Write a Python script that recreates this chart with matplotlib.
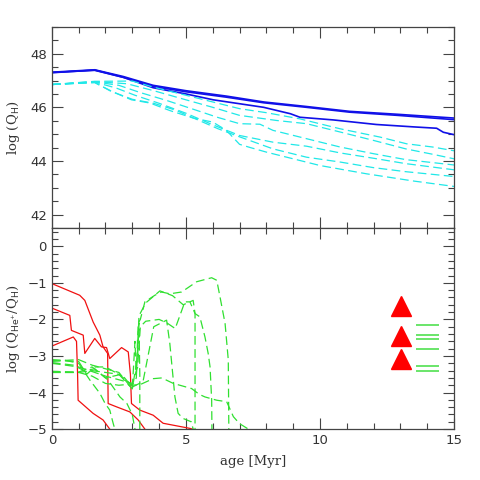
import matplotlib
matplotlib.use("Agg")
import matplotlib.pyplot as plt
from matplotlib.ticker import MultipleLocator

# ---- top panel: log Q_H vs age ----
blue_x = [
    [0, 1.6, 2.66, 3.78, 5.0, 6.5, 7.9, 9.5, 11.1, 12.9, 15],
    [0, 1.6, 2.66, 3.78, 5.0, 6.5, 7.9, 9.5, 11.1, 12.9, 15],
    [0, 1.6, 2.66, 3.78, 5.0, 6.02, 7.9, 8.9, 9.25, 10.5, 12.1, 13.5, 14.35, 14.6, 15],
]
blue_y = [
    [47.31, 47.40, 47.15, 46.82, 46.62, 46.42, 46.20, 46.03, 45.85, 45.74, 45.60],
    [47.30, 47.38, 47.12, 46.78, 46.58, 46.38, 46.17, 46.00, 45.82, 45.70, 45.54],
    [47.29, 47.39, 47.12, 46.73, 46.50, 46.28, 46.00, 45.76, 45.63, 45.53, 45.36, 45.27, 45.22, 45.07, 44.98],
]

cyan_x = [
    [0, 1.6, 3.0, 3.8, 5.0, 6.0, 7.0, 8.0, 9.25, 10.75, 12.24, 13.23, 14.2, 15],
    [0, 1.6, 2.8, 3.8, 5.0, 6.0, 7.0, 8.38, 9.5, 10.75, 11.98, 13.2, 14.2, 15],
    [0, 1.6, 2.5, 3.3, 4.3, 5.3, 6.2, 7.0, 7.76, 8.25, 9.5, 10.75, 12.0, 13.2, 15],
    [0, 1.6, 2.4, 3.1, 4.0, 5.0, 6.0, 7.0, 8.25, 9.5, 10.75, 12.0, 13.2, 15],
    [0, 1.6, 2.2, 3.0, 3.8, 4.6, 5.4, 6.2, 7.0, 8.25, 9.5, 10.75, 12.0, 13.2, 15],
    [0, 1.6, 2.29, 2.97, 3.66, 4.4, 5.27, 6.0, 6.5, 7.0, 7.4, 8.0, 10.0, 11.74, 13.5, 15],
]
cyan_y = [
    [46.85, 46.97, 46.98, 46.75, 46.45, 46.20, 45.95, 45.80, 45.57, 45.20, 44.89, 44.64, 44.52, 44.38],
    [46.85, 46.96, 46.88, 46.62, 46.28, 46.00, 45.70, 45.51, 45.39, 45.08, 44.77, 44.45, 44.25, 44.08],
    [46.85, 46.95, 46.82, 46.55, 46.25, 45.92, 45.62, 45.39, 45.37, 45.14, 44.83, 44.52, 44.27, 44.05, 43.85],
    [46.85, 46.94, 46.72, 46.45, 46.15, 45.78, 45.35, 44.95, 44.70, 44.55, 44.30, 44.10, 43.90, 43.67],
    [46.85, 46.93, 46.60, 46.30, 46.15, 45.90, 45.55, 45.20, 44.90, 44.45, 44.14, 43.96, 43.75, 43.60, 43.42],
    [46.85, 46.92, 46.57, 46.28, 46.16, 45.88, 45.60, 45.45, 45.15, 44.62, 44.50, 44.33, 43.83, 43.52, 43.25, 43.05],
]

# ---- bottom panel: log Q_He+/Q_H vs age ----
red_x = [
    [0, 1.04, 1.23, 1.54, 1.79, 1.91, 2.08, 2.10, 2.41, 2.91, 3.22, 3.47],
    [0, 0.67, 0.73, 1.17, 1.23, 1.6, 1.85, 2.04, 2.16, 2.6, 2.85, 2.93, 2.97, 3.28, 3.78, 4.15, 5.15, 5.25],
    [0, 0.8, 0.92, 0.96, 0.98, 1.54, 1.91, 2.1, 2.16],
]
red_y = [
    [-1.02, -1.34, -1.48, -2.07, -2.43, -2.75, -2.93, -4.30, -4.39, -4.53, -4.75, -5.0],
    [-1.69, -1.89, -2.30, -2.43, -2.93, -2.52, -2.75, -2.77, -3.07, -2.77, -2.89, -3.50, -4.30, -4.48, -4.62, -4.84, -4.98, -5.0],
    [-2.73, -2.48, -2.60, -3.50, -4.21, -4.57, -4.75, -4.94, -5.0],
]

green_x = [
    [0, 0.5, 1.0, 1.5, 2.0, 2.5, 3.0, 3.1, 3.15, 3.22, 3.3, 3.47, 3.84, 4.09, 4.4, 4.84, 5.4, 5.96, 6.15, 6.27, 6.46, 6.58, 6.6],
    [0, 1.0, 1.5, 2.0, 2.5, 3.0, 3.15, 3.25, 3.5, 4.03, 4.5, 4.9, 5.27, 5.34, 5.34],
    [0, 1.0, 2.0, 3.0, 3.2, 3.3, 3.5, 4.0, 4.3, 4.6, 4.96, 5.15, 5.34, 5.52, 5.71, 5.83, 5.9, 5.96, 5.97],
    [0, 1.0, 1.3, 1.6, 2.0, 2.5, 3.0, 3.2, 3.25, 3.28, 3.28],
    [0, 1.0, 1.5, 2.0, 2.6, 3.0, 3.4, 3.8, 4.28, 4.4, 4.47, 4.59, 4.71, 4.9, 5.2, 5.27],
    [0, 0.5, 1.0, 1.5, 2.0, 2.5, 2.8, 3.0, 3.3, 3.78, 4.1, 4.53, 5.21, 5.5, 5.71, 6.15, 6.52, 6.77, 7.0, 7.33],
    [0, 0.5, 1.0, 1.42, 1.79, 1.98, 2.16, 2.29, 2.35],
    [0, 0.8, 1.2, 1.6, 2.1, 2.54, 2.8, 3.0, 3.1],
]
green_y = [
    [-3.15, -3.12, -3.10, -3.25, -3.35, -3.45, -3.90, -2.60, -3.50, -2.10, -2.00, -1.52, -1.34, -1.25, -1.30, -1.25, -0.97, -0.86, -0.93, -1.38, -2.11, -3.11, -5.0],
    [-3.45, -3.45, -3.40, -3.45, -3.50, -3.80, -3.60, -1.90, -1.55, -1.22, -1.35, -1.60, -1.48, -1.84, -5.0],
    [-3.20, -3.30, -3.55, -3.75, -3.30, -2.20, -2.05, -2.00, -2.10, -2.25, -1.52, -1.52, -1.84, -1.93, -2.48, -2.93, -3.30, -4.20, -5.0],
    [-3.12, -3.15, -3.50, -3.30, -3.30, -3.50, -3.90, -3.00, -2.10, -3.50, -5.0],
    [-3.42, -3.44, -3.30, -3.60, -3.50, -3.85, -3.70, -2.20, -2.02, -2.66, -3.20, -4.12, -4.57, -4.71, -4.80, -5.0],
    [-3.45, -3.45, -3.45, -3.55, -3.75, -3.80, -3.78, -3.80, -3.78, -3.62, -3.60, -3.75, -3.89, -4.05, -4.12, -4.21, -4.25, -4.66, -4.85, -5.0],
    [-3.10, -3.12, -3.20, -3.66, -4.02, -4.29, -4.48, -4.85, -5.0],
    [-3.18, -3.25, -3.40, -3.35, -3.66, -4.12, -4.30, -4.60, -5.0],
]

tri_x = [13.02, 13.02, 13.02]
tri_y = [-1.62, -2.44, -3.09]
bar_x0 = 13.58
bar_x1 = 14.45
bar_y = [-2.15, -2.43, -2.53, -2.80, -3.27, -3.40]

fig = plt.figure(figsize=(4.8, 4.8), dpi=100)
ax1 = fig.add_axes([0.108, 0.525, 0.838, 0.419])
ax2 = fig.add_axes([0.108, 0.106, 0.838, 0.419])

for xs, ys in zip(blue_x, blue_y):
    ax1.plot(xs, ys, color='#1010e8', lw=1.2)
for xs, ys in zip(cyan_x, cyan_y):
    ax1.plot(xs, ys, color='#20e8e8', lw=0.9, dashes=(7, 3.5))

for xs, ys in zip(red_x, red_y):
    ax2.plot(xs, ys, color='#f01010', lw=0.9)
for xs, ys in zip(green_x, green_y):
    ax2.plot(xs, ys, color='#30e030', lw=0.9, dashes=(7, 3.5))
ax2.plot(tri_x, tri_y, ls='none', marker='^', ms=14, color='#ff0000')
ax2.hlines(bar_y, bar_x0, bar_x1, color='#50e050', lw=1.2)

ax1.set_xlim(0, 15)
ax1.set_ylim(41.5, 49)
ax2.set_xlim(0, 15)
ax2.set_ylim(-5, 0.5)

ax1.yaxis.set_major_locator(MultipleLocator(2))
ax1.yaxis.set_minor_locator(MultipleLocator(0.5))
ax2.yaxis.set_major_locator(MultipleLocator(1))
ax2.yaxis.set_minor_locator(MultipleLocator(0.2))
for ax in (ax1, ax2):
    ax.xaxis.set_major_locator(MultipleLocator(5))
    ax.xaxis.set_minor_locator(MultipleLocator(1))
    ax.tick_params(which='both', direction='in', top=True, right=True, labelsize=9.5, color='#444444')
    ax.tick_params(which='major', length=8, width=0.8)
    ax.tick_params(which='minor', length=4, width=0.8)
    for sp in ax.spines.values():
        sp.set_color('#444444')
        sp.set_linewidth(0.9)
    for lab in ax.get_xticklabels() + ax.get_yticklabels():
        lab.set_family('DejaVu Sans')
        lab.set_color('#333333')
ax1.tick_params(labelbottom=False)

ax1.set_ylabel(r'log (Q$_{\rm H}$)', family='DejaVu Serif', fontsize=9.5, color='#333333')
ax2.set_ylabel(r'log (Q$_{\rm He^{+}}$/Q$_{\rm H}$)', family='DejaVu Serif', fontsize=9.5, color='#333333')
ax1.yaxis.set_label_coords(-0.075, 0.5)
ax2.yaxis.set_label_coords(-0.075, 0.5)
ax2.set_xlabel('age [Myr]', family='DejaVu Serif', fontsize=9.5, color='#333333', labelpad=6)

fig.savefig('out.png', dpi=100)
